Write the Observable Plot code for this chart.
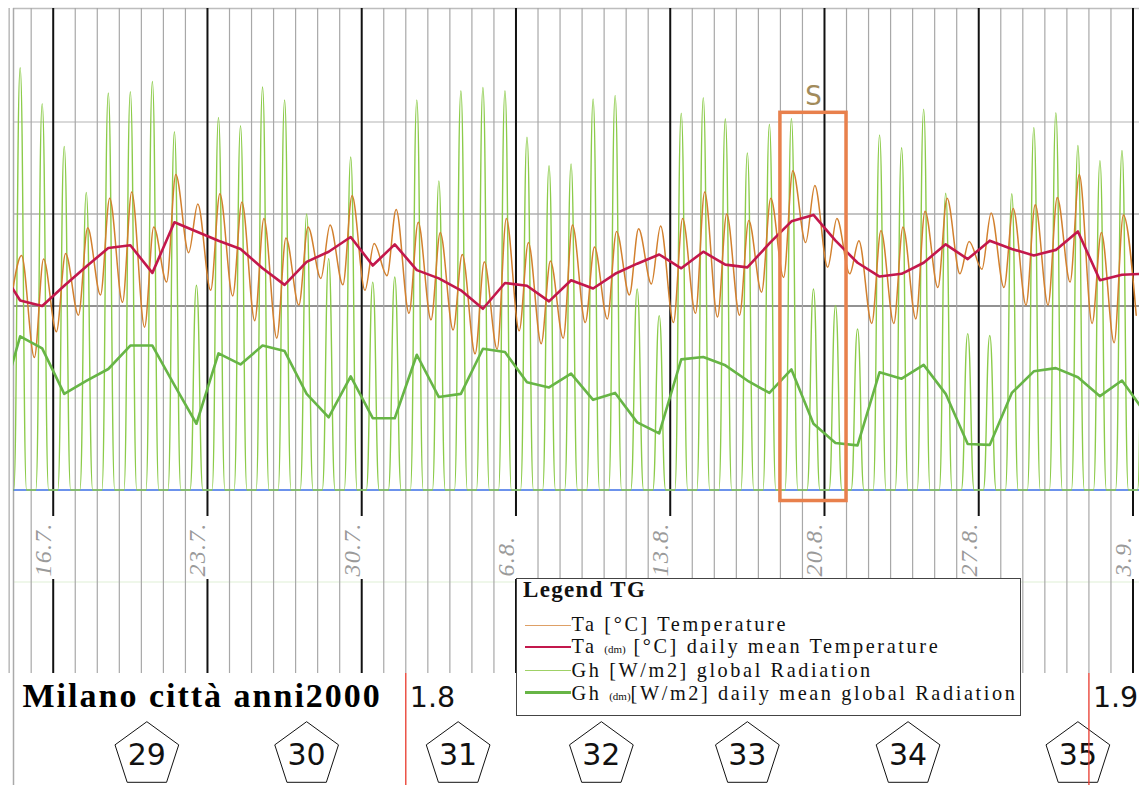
<!DOCTYPE html>
<html>
<head>
<meta charset="utf-8">
<script src="https://cdn.jsdelivr.net/npm/d3@7"></script>
<script src="https://cdn.jsdelivr.net/npm/@observablehq/plot@0.6"></script>
<style>
  body { margin: 0; background: #fff; }
  #chart { position: relative; width: 1139px; height: 785px; overflow: hidden; background: #fff; }
  #legend { position: absolute; left: 516px; top: 578px; width: 503px; height: 136px;
            border: 1.5px solid #444; background: #fff; color: #111;
            font-family: "Liberation Serif", "Times New Roman", serif; }
  #legend .ttl { position: absolute; left: 6px; top: 0px; font-weight: bold; font-size: 23px;
                 line-height: 22px; letter-spacing: 1.3px; white-space: nowrap; }
  #legend .row { position: absolute; left: 54.5px; font-size: 20.3px; line-height: 22px;
                 letter-spacing: 2.6px; white-space: nowrap; }
  #legend .key { position: absolute; left: 7.5px; width: 46px; }
  #legend .dm  { font-size: 11px; letter-spacing: 0; }
</style>
</head>
<body>
<div id="chart"></div>
<script>
// ---- Milano città, summer: hourly and daily-mean temperature & global radiation ----

// Daily means (noon of each day), 13.7. … 3.9.
const tMean = [
  24.4, 20.6, 20.0, 22.2, 24.3, 26.3, 26.6,
  23.6, 29.1, 28.1, 27.1, 26.2, 24.1, 22.3,
  24.8, 25.9, 27.5, 24.4, 26.7, 23.9, 23.0,
  21.7, 19.7, 22.5, 22.2, 20.5, 22.8, 21.9,
  23.5, 24.6, 25.6, 24.1, 25.9, 24.5, 24.2,
  26.8, 29.2, 29.9, 27.1, 24.7, 23.2, 23.5,
  24.7, 26.7, 25.1, 27.1, 26.2, 25.5, 26.1,
  28.1, 22.8, 23.4, 23.5
];
const ghMean = [
  166, 334, 308, 209, 237, 263, 314,
  314, 228, 144, 297, 273, 314, 302,
  209, 158, 247, 156, 156, 294, 202,
  209, 307, 300, 234, 223, 253, 196,
  211, 147, 123, 284, 289, 271, 238,
  211, 262, 144, 102,  97, 256, 242,
  272, 209, 100,  98, 211, 258, 265,
  245, 204, 238, 171
];

// Hourly extremes, 14.7. … 3.9. (night minimum, afternoon maximum)
const tMin = [
  21.5, 14.4, 17.2, 19.0, 21.2, 20.4, 17.7,
  22.6, 25.8, 21.7, 21.1, 18.4, 16.5, 20.1,
  23.0, 22.3, 21.7, 23.3, 19.2, 18.5, 17.4,
  14.8, 15.3, 17.3, 15.9, 16.5, 18.2, 18.6,
  21.2, 22.4, 18.2, 19.2, 18.8, 19.0, 21.5,
  23.1, 26.9, 24.2, 23.5, 18.1, 18.1, 18.6,
  22.0, 23.5, 24.0, 22.0, 20.1, 20.1, 22.6,
  18.1, 16.0, 19.0
];
const tMax = [
  25.5, 25.1, 25.7, 28.5, 31.7, 32.4, 28.6,
  34.3, 31.1, 32.2, 31.3, 29.5, 27.4, 28.6,
  28.8, 32.0, 26.8, 30.5, 29.1, 28.0, 25.6,
  24.8, 29.5, 26.9, 24.9, 28.8, 26.4, 28.1,
  28.4, 28.7, 29.5, 32.4, 30.0, 29.3, 31.7,
  34.7, 33.1, 29.5, 27.1, 28.2, 28.6, 30.3,
  31.7, 27.0, 30.1, 30.6, 31.0, 31.8, 34.3,
  28.0, 29.9
];
// Midday peak of global radiation [W/m2], 14.7. … 3.9.
const ghPeak = [
  918, 840, 747, 647, 863, 866, 888,
  779, 445, 810, 792, 876, 848, 600,
  503, 724, 452, 463, 848, 672, 868,
  875, 868, 767, 705, 709, 850, 858,
  437, 379, 819, 853, 807, 733, 795,
  808, 437, 401, 350, 772, 744, 828,
  645, 340, 336, 644, 788, 820, 749,
  716, 738, 700
];

// Calendar annotations
const weekTicks = ["2000-07-16", "2000-07-23", "2000-07-30", "2000-08-06",
                   "2000-08-13", "2000-08-20", "2000-08-27", "2000-09-03"];
const weekTickLabels = ["16.7.", "23.7.", "30.7.", "6.8.", "13.8.", "20.8.", "27.8.", "3.9."];
const monthStarts = ["2000-08-01", "2000-09-01"];
const monthLabels = ["1.8", "1.9"];
const weekNumbers = [29, 30, 31, 32, 33, 34, 35];
const weekNumberAt = ["2000-07-20T06:00Z", "2000-07-27T12:00Z", "2000-08-03T09:00Z", "2000-08-09T21:00Z",
                      "2000-08-16T12:00Z", "2000-08-23T19:00Z", "2000-08-31T12:00Z"];
const bandStart = ["2000-08-18"], bandEnd = ["2000-08-21"], bandLabel = ["S"];
const title = "Milano città anni2000";
const legendTitle = "Legend TG";
const legendRows = [
  ["Ta", "", " [°C] Temperature"],
  ["Ta ", "(dm)", " [°C] daily mean Temperature"],
  ["Gh", "", " [W/m2] global Radiation"],
  ["Gh ", "(dm)", "[W/m2] daily mean global Radiation"]
];

// ---- styling ----
const C = { ta: "#d2802e", tadm: "#c3184c", gh: "#8ccb4a", ghdm: "#67b546" };
const legendStyle = [["#dea066", 1.5], [C.tadm, 2.2], ["#9fd166", 1.5], [C.ghdm, 2.6]];
const W_PER_DEG = 20;              // radiation shares the temperature axis: 10 °C ↔ 200 W/m2

// ---- derived tables ----
const utc = s => new Date(s.length <= 10 ? s + "T00:00:00Z" : s);
const at = (d, h) => new Date(+d + h * 3600e3);
const meanDays = d3.utcDay.range(utc("2000-07-13"), utc("2000-09-04"));
const hourDays = meanDays.slice(1);

const means = meanDays.map((d, i) => ({ t: at(d, 12), ta: tMean[i], gh: ghMean[i] }));
const tHourly = [];
hourDays.forEach((d, i) => {
  tHourly.push({ t: at(d, 3.5), ta: tMin[i] });
  if (i < tMax.length) tHourly.push({ t: at(d, 13.5), ta: tMax[i] });
});
const ghHourly = [];
hourDays.forEach((d, i) => {
  ghHourly.push({ t: at(d, 5), gh: 0 }, { t: at(d, 12), gh: ghPeak[i] }, { t: at(d, 19), gh: 0 });
});
const weekDates = weekTicks.map(utc);
const weekSet = new Set(weekDates.map(Number));
const dayLines = d3.utcDay.range(utc("2000-07-14"), utc("2000-09-04")).filter(d => !weekSet.has(+d));
const months = monthStarts.map(utc);
const weeks = weekNumbers.map((n, i) => ({ n, t: utc(weekNumberAt[i]) }));
const bands = bandStart.map((s, i) => ({ start: utc(s), end: utc(bandEnd[i]), label: bandLabel[i] }));

const x0 = new Date(Date.UTC(2000, 6, 14, 4, 45));
const x1 = new Date(Date.UTC(2000, 8, 3, 7, 5));
const yDomain = [-19.95, 52.34];

// pentagon symbol for the week numbers
const pentagon = {
  draw(ctx, size) {
    const r = Math.sqrt(size / Math.PI);
    for (let k = 0; k < 5; ++k) {
      const a = -Math.PI / 2 + k * 2 * Math.PI / 5;
      const px = r * Math.cos(a), py = r * Math.sin(a);
      k ? ctx.lineTo(px, py) : ctx.moveTo(px, py);
    }
    ctx.closePath();
  }
};

const SERIF = "Liberation Serif, Times New Roman, serif";
const SANS = "DejaVu Sans, sans-serif";

const svg = Plot.plot({
  width: 1139, height: 785,
  marginLeft: 13, marginRight: 0, marginTop: 8, marginBottom: 112,
  x: { type: "utc", domain: [x0, x1], axis: null },
  y: { domain: yDomain, axis: null },
  style: { background: "#fff" },
  marks: [
    // horizontal grid
    Plot.ruleY([yDomain[1]], { stroke: "#bdbdbd", strokeWidth: 1.5 }),
    Plot.ruleY([40], { stroke: "#cdcdcd", strokeWidth: 1.5 }),
    Plot.ruleY([30], { stroke: "#b0b0b0", strokeWidth: 1.5 }),
    Plot.ruleY([20], { stroke: "#6e6e6e", strokeWidth: 1.5 }),
    Plot.ruleY([10, -10], { stroke: "#eaf4e3", strokeWidth: 1.5 }),
    // day and week lines
    Plot.ruleX(dayLines, { x: d => d, stroke: "#a8a8a8", strokeWidth: 1.2 }),
    Plot.ruleX(weekDates, { x: d => d, stroke: "#111", strokeWidth: 2, insetBottom: 157 }),
    Plot.ruleX(weekDates, { x: d => d, stroke: "#111", strokeWidth: 2, insetTop: 571 }),
    Plot.ruleX([x0], { stroke: "#aaa", strokeWidth: 1.5, insetBottom: -112 }),
    Plot.ruleY([0], { stroke: "#3b6ee6", strokeWidth: 1.5 }),
    // hourly series
    Plot.line(ghHourly, { x: "t", y: d => d.gh / W_PER_DEG, stroke: C.gh, strokeWidth: 1.4, curve: "bump-x", clip: true }),
    Plot.line(tHourly, { x: "t", y: "ta", stroke: C.ta, strokeWidth: 1.5, curve: "monotone-x", clip: true }),
    // daily means
    Plot.line(means, { x: "t", y: d => d.gh / W_PER_DEG, stroke: C.ghdm, strokeWidth: 2.6, clip: true }),
    Plot.line(means, { x: "t", y: "ta", stroke: C.tadm, strokeWidth: 2.6, clip: true }),
    // highlighted period
    Plot.rect(bands, { x1: "start", x2: "end", y1: -1.2, y2: 41, fill: "none", stroke: "#e8804c", strokeWidth: 3.5 }),
    Plot.text(bands, { x: d => new Date((+d.start + +d.end) / 2), y: 41, text: "label", dy: -8, lineAnchor: "bottom",
                       fontSize: 26, fontFamily: SANS, fill: "#a28b5b" }),
    // date labels under the week lines
    Plot.text(weekDates, { x: d => d, text: (d, i) => weekTickLabels[i], rotate: -90, frameAnchor: "bottom",
                           dy: -97, dx: -2, textAnchor: "start", fill: "#9a9a9a", fontStyle: "italic",
                           fontFamily: SERIF, fontSize: 24 }),
    // title
    Plot.text([title], { text: d => d, frameAnchor: "bottom-left", dx: 9, dy: 33, textAnchor: "start",
                         lineAnchor: "bottom", fontSize: 34, fontWeight: "bold", fontFamily: SERIF, fill: "#000" }),
    // week numbers
    Plot.dot(weeks, { x: "t", frameAnchor: "bottom", dy: 81.7, symbol: pentagon, r: 33.5,
                      fill: "#fff", stroke: "#111", strokeWidth: 1 }),
    Plot.text(weeks, { x: "t", text: d => String(d.n), frameAnchor: "bottom", dy: 82, lineAnchor: "middle",
                       fontSize: 30, fontFamily: SANS, fill: "#111" }),
    // month starts
    Plot.ruleX(months, { x: d => d, stroke: "#e8392c", strokeWidth: 1.3, insetTop: 665, insetBottom: -112 }),
    Plot.text(months, { x: d => d, text: (d, i) => monthLabels[i], frameAnchor: "bottom", dx: 4, dy: 33,
                        textAnchor: "start", lineAnchor: "bottom", fontSize: 28.5, fontFamily: SANS, fill: "#111" })
  ]
});

// spaced lettering for the title and the date labels
d3.select(svg).selectAll("text")
  .filter(function () { return this.textContent === title; })
  .style("letter-spacing", "2px");
d3.select(svg).selectAll("text")
  .filter(function () { return weekTickLabels.includes(this.textContent); })
  .style("letter-spacing", "1.2px");

const chart = document.getElementById("chart");
chart.appendChild(svg);

// legend box
const legend = d3.select(chart).append("div").attr("id", "legend");
legend.append("div").attr("class", "ttl").text(legendTitle);
const rowTops = [33.65, 56.15, 79.65, 102.65];
const keyMid = [46.5, 68, 91.5, 113.5];
legendRows.forEach((parts, i) => {
  const [color, w] = legendStyle[i];
  legend.append("div").attr("class", "key")
    .style("top", (keyMid[i] - w / 2) + "px").style("height", w + "px").style("background", color);
  const row = legend.append("div").attr("class", "row").style("top", rowTops[i] + "px");
  row.append("span").text(parts[0]);
  if (parts[1]) row.append("span").attr("class", "dm").text(parts[1]);
  row.append("span").text(parts[2]);
});
</script>
</body>
</html>
